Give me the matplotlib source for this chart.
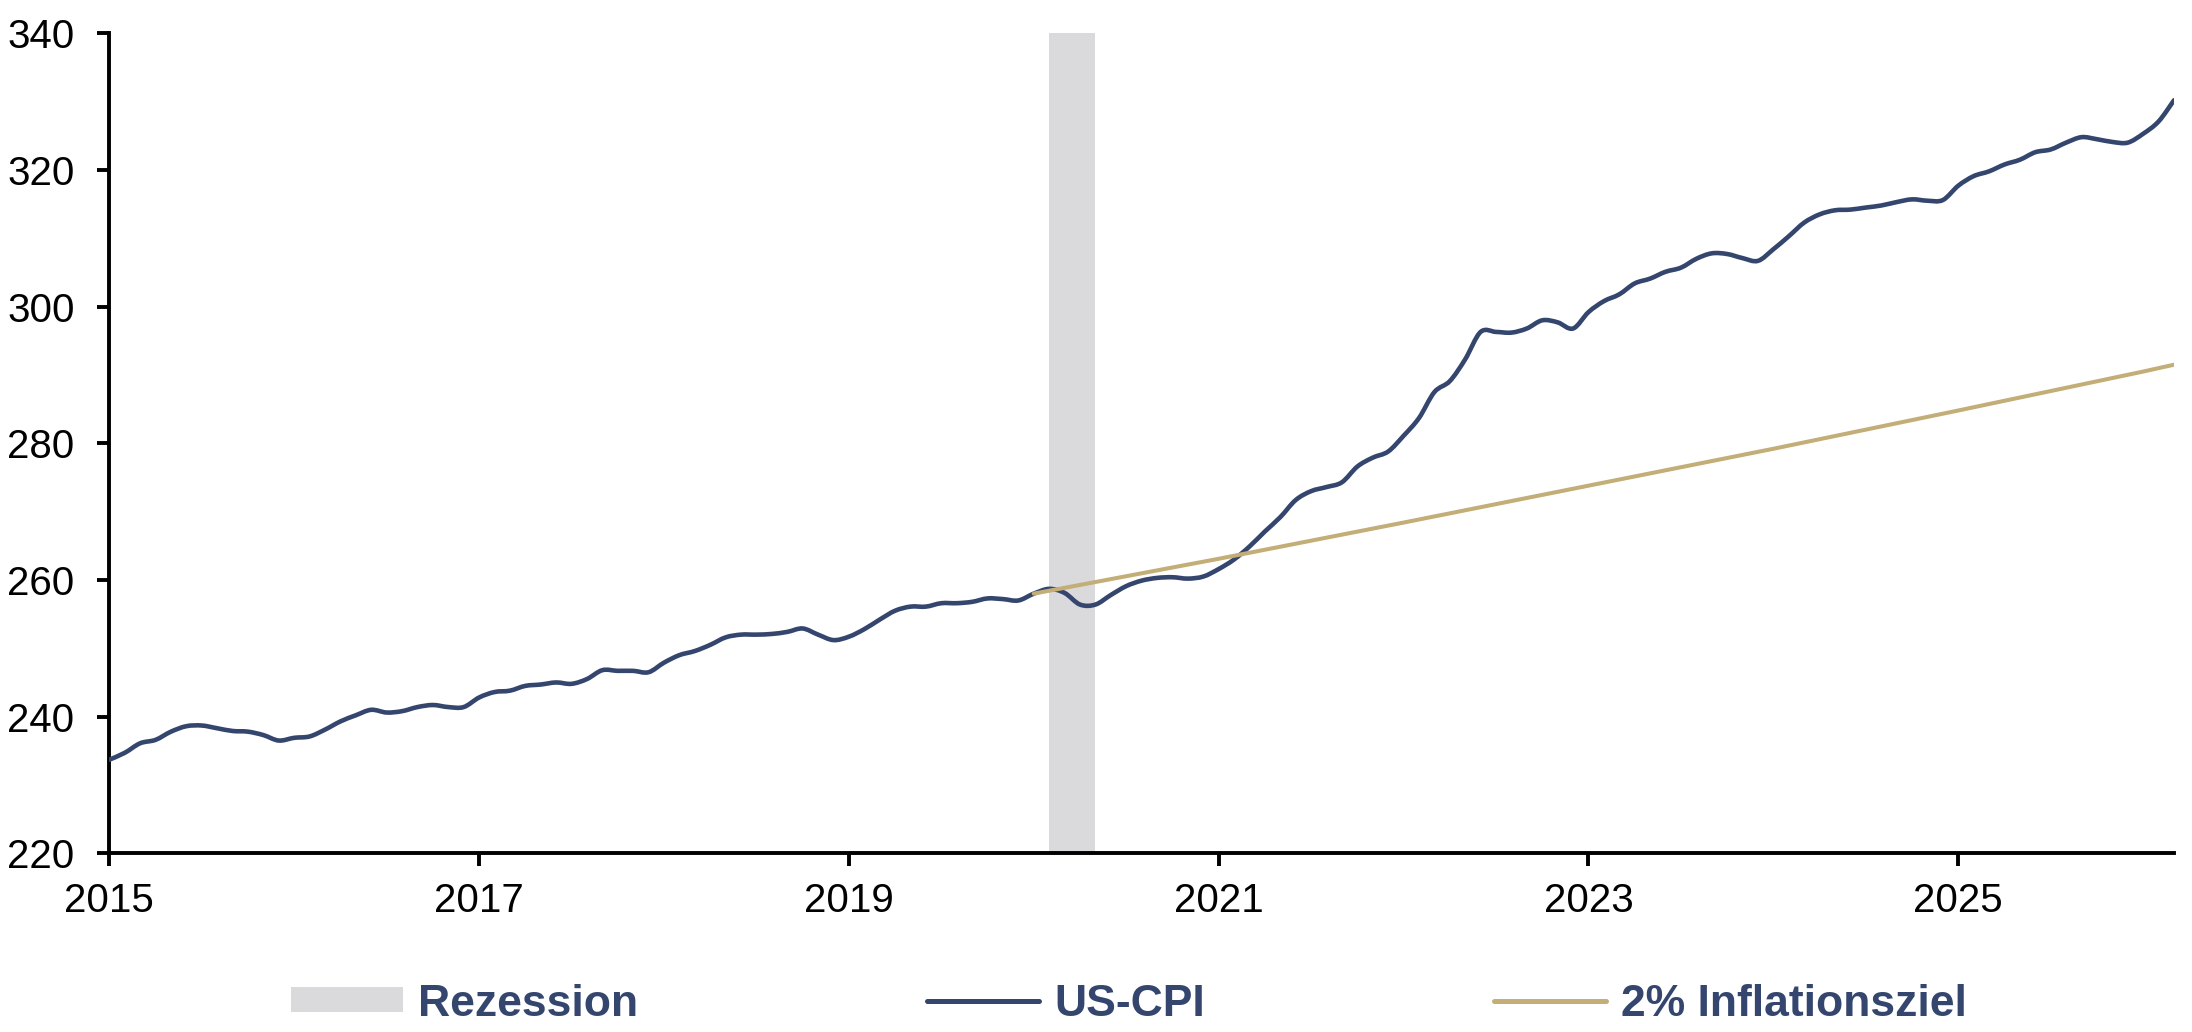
import numpy as np
import matplotlib
matplotlib.use("Agg")
import matplotlib.pyplot as plt
from matplotlib.path import Path
from matplotlib.patches import PathPatch, Patch
from matplotlib.lines import Line2D

# ---------------- data ----------------
start_year = 2015
cpi_2015 = [233.7, 234.7, 236.1, 236.6, 237.8, 238.6, 238.7, 238.3, 237.9, 237.8, 237.3, 236.5]
cpi_2016 = [236.9, 237.1, 238.1, 239.3, 240.2, 241.0, 240.6, 240.8, 241.4, 241.7, 241.4, 241.4]
cpi_2017 = [242.8, 243.6, 243.8, 244.5, 244.7, 245.0, 244.8, 245.5, 246.8, 246.7, 246.7, 246.5]
cpi_2018 = [247.9, 249.0, 249.6, 250.5, 251.6, 252.0, 252.0, 252.1, 252.4, 252.9, 252.0, 251.2]
cpi_2019 = [251.7, 252.8, 254.2, 255.5, 256.1, 256.1, 256.6, 256.6, 256.8, 257.3, 257.2, 257.0]
cpi_2020 = [258.0, 258.7, 258.1, 256.4, 256.4, 257.8, 259.1, 259.9, 260.3, 260.4, 260.2, 260.5]
cpi_2021 = [261.6, 263.0, 264.9, 267.1, 269.2, 271.7, 273.0, 273.6, 274.3, 276.6, 277.9, 278.8]
cpi_2022 = [281.1, 283.7, 287.5, 289.1, 292.3, 296.3, 296.3, 296.2, 296.8, 298.0, 297.7, 296.8]
cpi_2023 = [299.2, 300.8, 301.8, 303.4, 304.1, 305.1, 305.7, 307.0, 307.8, 307.7, 307.1, 306.7]
cpi_2024 = [308.4, 310.3, 312.3, 313.5, 314.1, 314.2, 314.5, 314.8, 315.3, 315.7, 315.5, 315.6]
cpi_2025 = [317.7, 319.1, 319.8, 320.8, 321.5, 322.6, 323.0, 324.0, 324.8, 324.5, 324.1, 324.0]
cpi_2026 = [325.3, 327.1, 330.2]

target_x = [2020.0, 2021.0, 2022.0, 2023.0, 2024.0, 2025.0, 2026.0, 2026 + 2 / 12]
target_y = [258.0, 263.1, 268.4, 273.8, 279.2, 284.8, 290.5, 291.5]

recession_start = 2020 + 1 / 12
recession_end = 2020 + 4 / 12

y_ticks = [220, 240, 260, 280, 300, 320, 340]
x_ticks = [2015, 2017, 2019, 2021, 2023, 2025]

labels = ["Rezession", "US-CPI", "2% Inflationsziel"]

# ---------------- style ----------------
NAVY = "#34466E"
GOLD = "#C4AE78"
GREY = "#DAD9DC"
TEXT = "#34466E"
plt.rcParams["font.family"] = ["Liberation Sans", "DejaVu Sans"]

cpi = np.array(cpi_2015 + cpi_2016 + cpi_2017 + cpi_2018 + cpi_2019 + cpi_2020
               + cpi_2021 + cpi_2022 + cpi_2023 + cpi_2024 + cpi_2025 + cpi_2026)
x = start_year + np.arange(len(cpi)) / 12.0


def smooth_path(xs, ys):
    """Bezier path through the data points (Excel-style smoothed line)."""
    pts = np.column_stack([xs, ys])
    n = len(pts)
    verts = [pts[0]]
    codes = [Path.MOVETO]
    for i in range(n - 1):
        p0 = pts[i - 1] if i > 0 else pts[i]
        p1 = pts[i]
        p2 = pts[i + 1]
        p3 = pts[i + 2] if i + 2 < n else pts[i + 1]
        c1 = p1 + (p2 - p0) / 6.0
        c2 = p2 - (p3 - p1) / 6.0
        verts += [c1, c2, p2]
        codes += [Path.CURVE4] * 3
    return Path(verts, codes)


fig = plt.figure(figsize=(21.92, 10.32), dpi=100)
ax = fig.add_axes([109.3 / 2192, 1 - 853.3 / 1032, (2174 - 109.3) / 2192, (853.3 - 33.3) / 1032])

ax.axvspan(recession_start, recession_end, color=GREY, lw=0, zorder=1)

cpi_patch = PathPatch(smooth_path(x, cpi), fill=False, edgecolor=NAVY, lw=3.3,
                      capstyle="round", joinstyle="round", zorder=3)
ax.add_patch(cpi_patch)
ax.plot(target_x, target_y, color=GOLD, lw=2.9, solid_capstyle="round", zorder=4)

ax.set_xlim(2015, 2026 + 2 / 12)
ax.set_ylim(220, 340)
ax.set_yticks(y_ticks)
ax.set_xticks(x_ticks)
ax.set_xticklabels([str(v) for v in x_ticks])

for s in ["top", "right"]:
    ax.spines[s].set_visible(False)
for s in ["left", "bottom"]:
    ax.spines[s].set_linewidth(2.8)
    ax.spines[s].set_color("black")
ax.tick_params(axis="both", direction="out", length=9, width=2.8, labelsize=29, colors="black")
ax.tick_params(axis="y", pad=16)
ax.tick_params(axis="x", pad=12)

handles = [Patch(facecolor=GREY, edgecolor="none"),
           Line2D([], [], color=NAVY, lw=3.6, solid_capstyle="round"),
           Line2D([], [], color=GOLD, lw=3.6, solid_capstyle="round")]
leg = fig.legend(handles, labels, loc="center", bbox_to_anchor=(0.515, 1 - 1004 / 1032),
                 ncol=3, frameon=False, handlelength=2.52, handleheight=0.5,
                 handletextpad=0.34, columnspacing=6.5,
                 prop={"family": ["Liberation Sans"], "weight": "bold", "size": 32})
for t in leg.get_texts():
    t.set_color(TEXT)

fig.savefig("out.png", dpi=100)
